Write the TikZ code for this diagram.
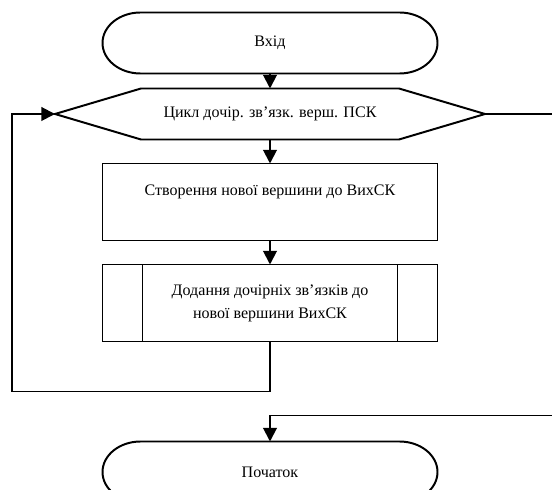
\documentclass[tikz,border=0pt]{standalone}
\usepackage{fontspec}
\setmainfont{Liberation Serif}
\usetikzlibrary{positioning,arrows.meta,calc}

\begin{document}
\begin{tikzpicture}[
  font=\fontsize{11.4}{16.4}\selectfont,
  term/.style={minimum width=8.375cm,minimum height=1.525cm,inner sep=0pt,outer sep=0pt},
  hexa/.style={minimum width=10.75cm,minimum height=1.275cm,inner sep=0pt,outer sep=0pt},
  proc/.style={draw,line width=1.4pt,minimum width=8.375cm,minimum height=1.925cm,align=center,inner sep=0pt,outer sep=0pt},
  ln/.style={line width=1.4pt,line join=miter},
  ar/.style={ln,-{Triangle[length=3.4mm,width=3.4mm]}}]
\useasboundingbox (0,0) rectangle (13.8,-12.25);
\clip (0,0) rectangle (13.8,-12.25);
% ---- blocks
\node[term] (start) at (6.75,-1.075) {Вхід};
\node[hexa,below=0.375cm of start] (loop) {Цикл дочір. зв’язк. верш. ПСК};
\node[proc,below=0.6cm of loop] (mk) {Створення нової вершини до ВихСК\\\mbox{}};
\node[proc,below=0.6cm of mk] (sub) {Додання дочірніх зв’язків до\\нової вершини ВихСК};
\node[term,below=2.5cm of sub] (stop) {Початок};
% ---- outlines
\foreach \n in {start,stop}{
  \draw[ln] ([xshift=0.95cm]\n.north west) -- ([xshift=-0.95cm]\n.north east)
    arc[start angle=90,end angle=-90,x radius=0.95cm,y radius=0.7625cm]
    -- ([xshift=0.95cm]\n.south west)
    arc[start angle=270,end angle=90,x radius=0.95cm,y radius=0.7625cm] -- cycle;}
\draw[ln] (loop.west) -- ([xshift=2.15cm]loop.north west) -- ([xshift=-2.15cm]loop.north east)
  -- (loop.east) -- ([xshift=-2.15cm]loop.south east) -- ([xshift=2.15cm]loop.south west) -- cycle;
\draw[ln] ([xshift=1cm]sub.north west) -- ([xshift=1cm]sub.south west)
  ([xshift=-1cm]sub.north east) -- ([xshift=-1cm]sub.south east);
% ---- connections
\draw[ar] (start.south) -- (loop.north);
\draw[ar] (loop.south) -- (mk.north);
\draw[ar] (mk.south) -- (sub.north);
\draw[ar] (sub.south) -- ++(0,-1.25) -| ([xshift=-1.075cm]loop.west) -- (loop.west);
\draw[ar] (loop.east) -- ++(2.2,0) |- ([yshift=0.65cm]stop.north) -- (stop.north);
\end{tikzpicture}
\end{document}
